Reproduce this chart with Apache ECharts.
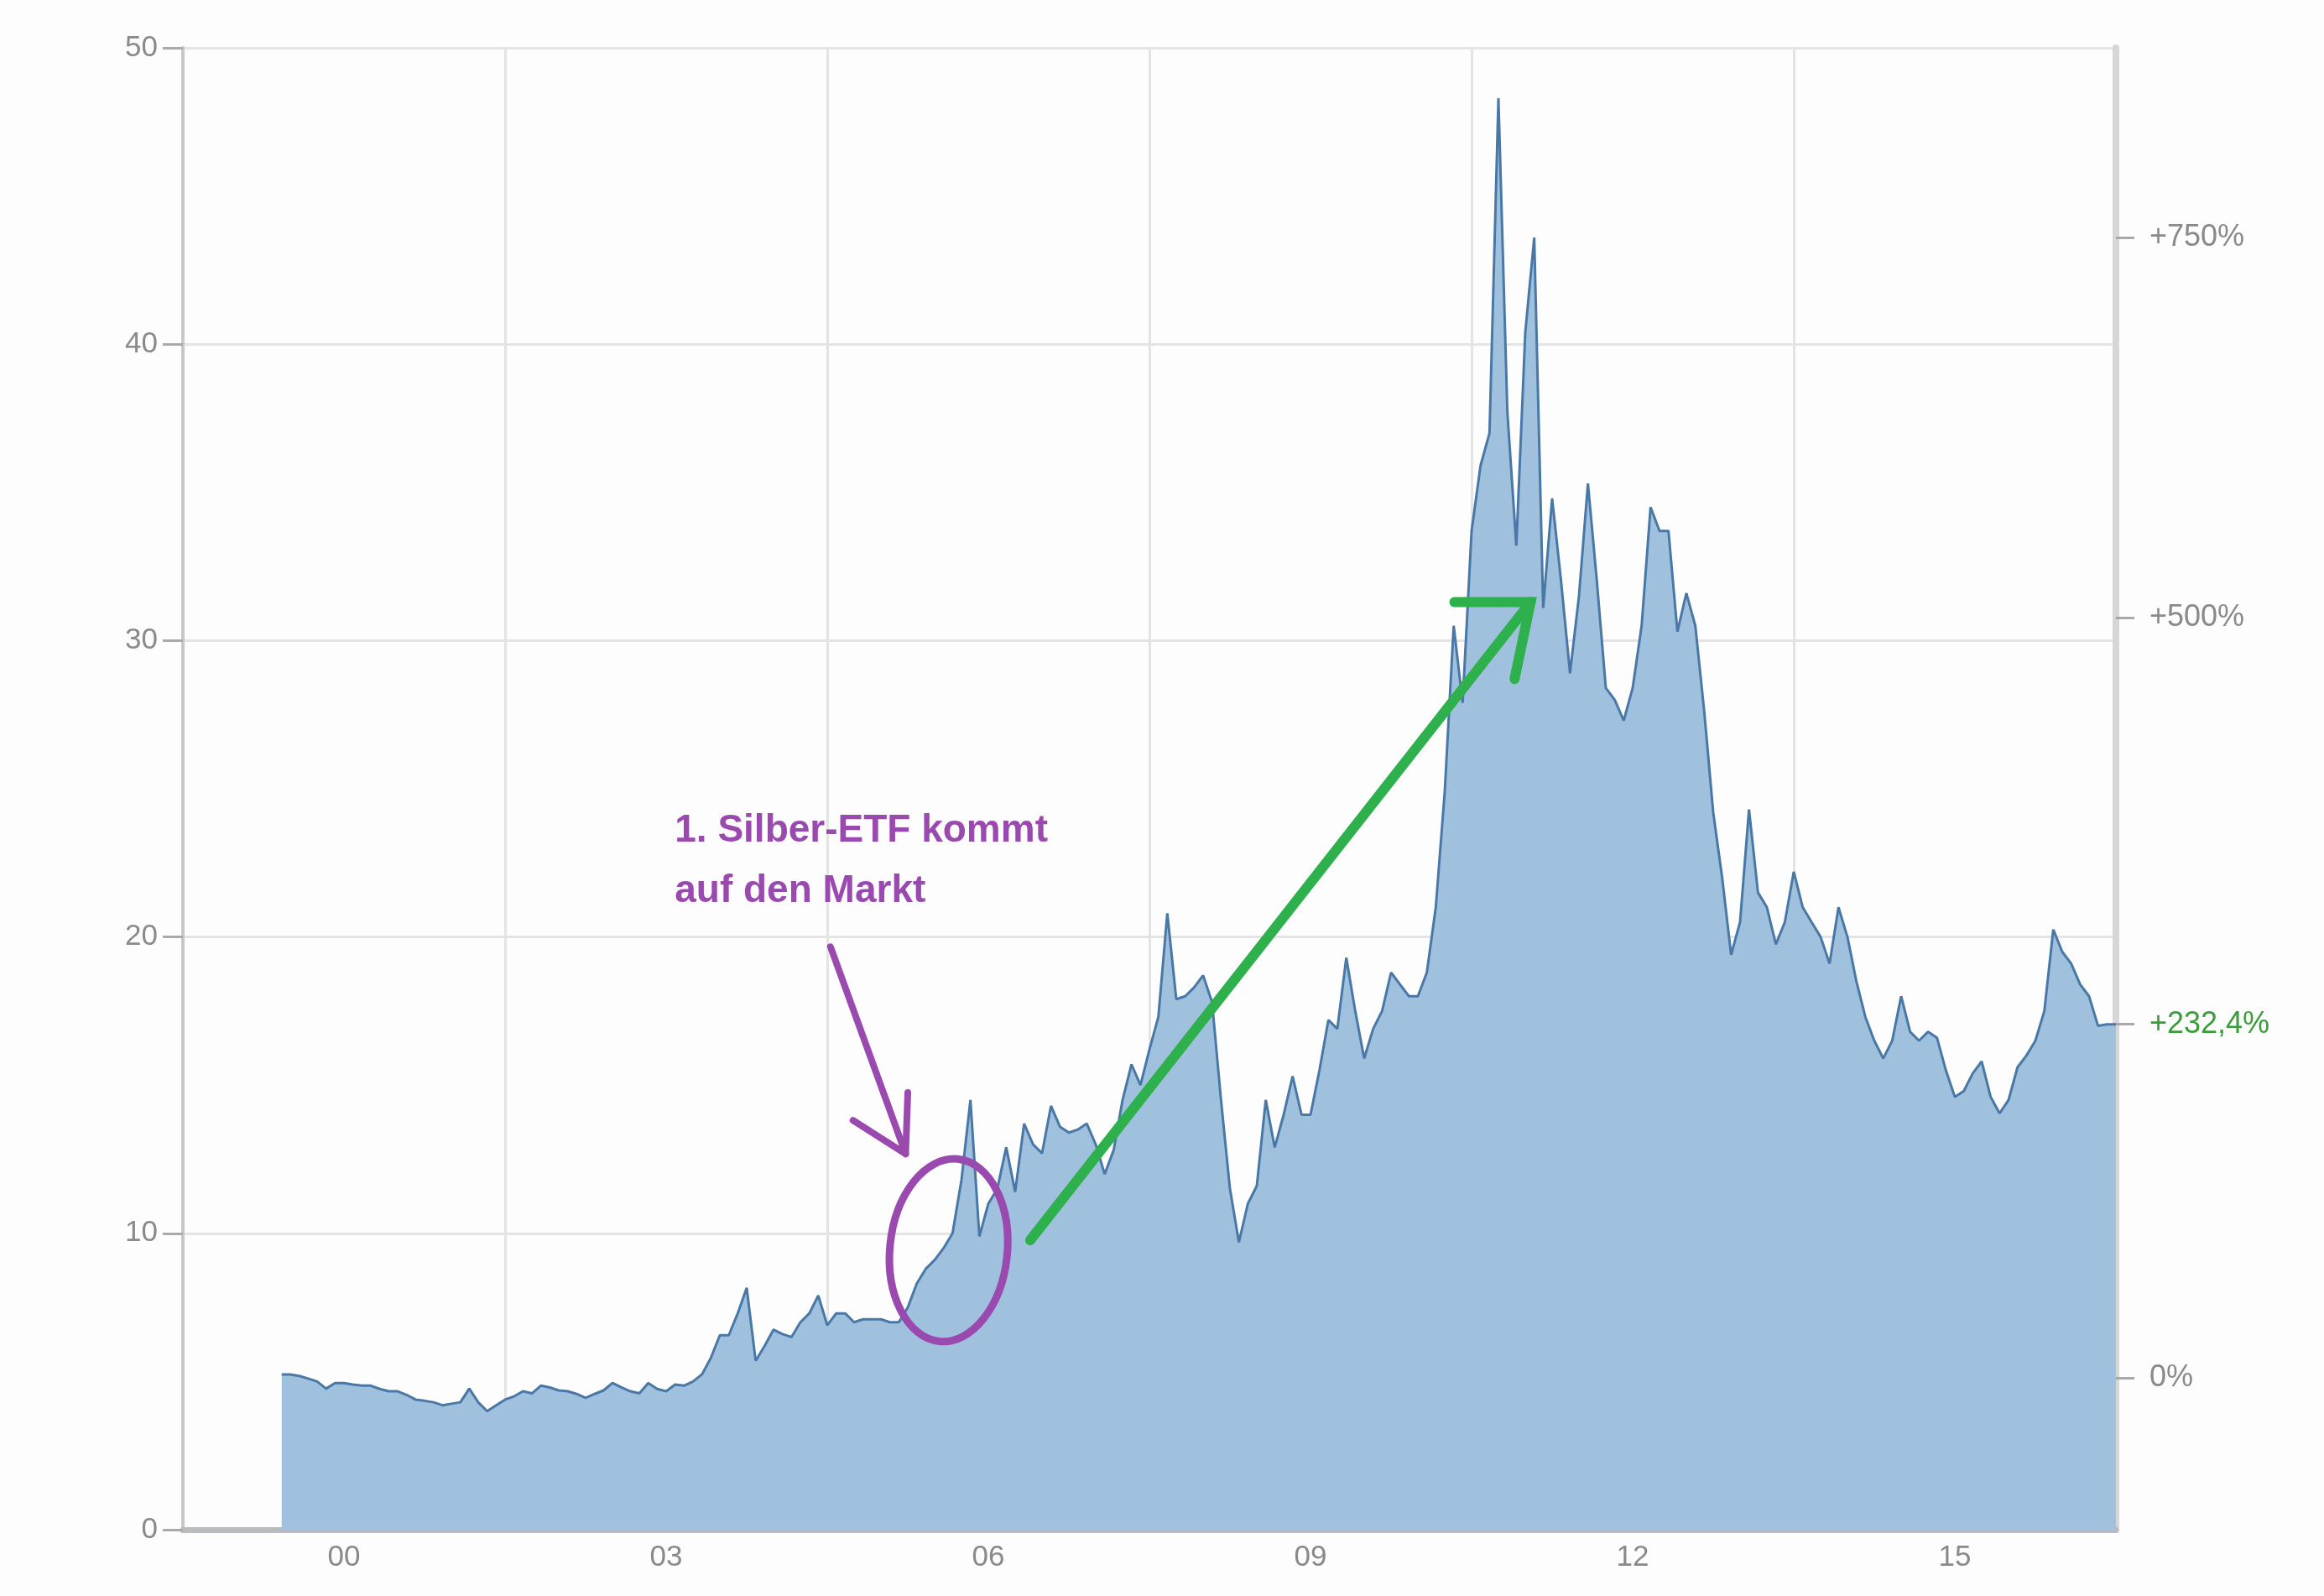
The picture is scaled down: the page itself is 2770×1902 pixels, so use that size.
<!DOCTYPE html>
<html>
<head>
<meta charset="utf-8">
<script src="https://cdn.jsdelivr.net/npm/echarts@6/dist/echarts.min.js"></script>
<style>
html,body{margin:0;padding:0;background:#fdfdfd;}
#chart{width:2770px;height:1902px;}
</style>
</head>
<body>
<div id="chart"></div>
<script>
// Silver price (USD/oz), monthly readings from the reference chart
const firstYear = 2000;
const startPoint = [1999.92, 5.24]; // left edge of the filled area in the reference
const v2000 = [5.24, 5.19, 5.10, 5.00, 4.76, 4.95, 4.95, 4.90, 4.86, 4.86, 4.75, 4.67];
const v2001 = [4.67, 4.55, 4.39, 4.35, 4.30, 4.20, 4.25, 4.30, 4.76, 4.30, 4.00, 4.20];
const v2002 = [4.39, 4.50, 4.67, 4.60, 4.86, 4.80, 4.70, 4.67, 4.58, 4.45, 4.58, 4.70];
const v2003 = [4.95, 4.80, 4.67, 4.60, 4.95, 4.75, 4.67, 4.90, 4.86, 5.00, 5.24, 5.80];
const v2004 = [6.56, 6.56, 7.30, 8.16, 5.70, 6.20, 6.75, 6.60, 6.50, 7.00, 7.30, 7.90];
const v2005 = [6.90, 7.30, 7.30, 7.00, 7.10, 7.10, 7.10, 7.00, 7.00, 7.50, 8.30, 8.80];
const v2006 = [9.10, 9.50, 10.0, 11.8, 14.5, 9.90, 11.0, 11.5, 12.9, 11.4, 13.7, 13.0];
const v2007 = [12.7, 14.3, 13.6, 13.4, 13.5, 13.7, 13.0, 12.0, 12.8, 14.5, 15.7, 15.0];
const v2008 = [16.2, 17.3, 20.8, 17.9, 18.0, 18.3, 18.7, 17.8, 14.5, 11.5, 9.70, 11.0];
const v2009 = [11.6, 14.5, 12.9, 14.0, 15.3, 14.0, 14.0, 15.5, 17.2, 16.9, 19.3, 17.5];
const v2010 = [15.9, 16.9, 17.5, 18.8, 18.4, 18.0, 18.0, 18.8, 21.0, 24.9, 30.5, 27.9];
const v2011 = [33.7, 35.9, 37.0, 48.3, 37.7, 33.2, 40.4, 43.6, 31.1, 34.8, 32.0, 28.9];
const v2012 = [31.5, 35.3, 32.0, 28.4, 28.0, 27.3, 28.4, 30.5, 34.5, 33.7, 33.7, 30.3];
const v2013 = [31.6, 30.5, 27.6, 24.2, 22.0, 19.4, 20.5, 24.3, 21.5, 21.0, 19.75, 20.5];
const v2014 = [22.2, 21.0, 20.5, 20.0, 19.1, 21.0, 20.0, 18.5, 17.3, 16.5, 15.9, 16.5];
const v2015 = [18.0, 16.8, 16.5, 16.8, 16.6, 15.5, 14.6, 14.8, 15.4, 15.8, 14.6, 14.05];
const v2016 = [14.5, 15.6, 16.0, 16.5, 17.5, 20.25, 19.5, 19.1, 18.4, 18.0, 17.0, 17.05];
const vLast = 17.05; // January 2017

const yearlyValues = [v2000, v2001, v2002, v2003, v2004, v2005, v2006, v2007, v2008,
                      v2009, v2010, v2011, v2012, v2013, v2014, v2015, v2016];

// Axis ticks
const xLabelPositions = [2000.5, 2003.5, 2006.5, 2009.5, 2012.5, 2015.5];
const xLabels = ['00', '03', '06', '09', '12', '15'];
const baseValue = 5.13;
const pctTicks = [0, 232.4, 500, 750];
const pctLabels = ['0%', '+232,4%', '+500%', '+750%'];

// Annotation text
const noteText = '1. Silber-ETF kommt\nauf den Markt';

const data = [startPoint];
yearlyValues.forEach((arr, i) => {
  arr.forEach((v, m) => data.push([firstYear + i + m / 12, v]));
});
data.push([firstYear + yearlyValues.length, vLast]);

const pctValues = pctTicks.map(p => baseValue * (1 + p / 100));

const chart = echarts.init(document.getElementById('chart'), null, {renderer: 'canvas'});
const labelFont = 'Liberation Sans, Arial, sans-serif';

const option = {
  backgroundColor: '#fdfdfd',
  animation: false,
  grid: {left: 218, right: 248, top: 57, bottom: 79},
  xAxis: [
    {
      type: 'value', min: 1999, max: 2017, interval: 3,
      axisLine: {show: true, lineStyle: {color: '#b8bcc0', width: 7}},
      axisTick: {show: false},
      axisLabel: {show: false},
      splitLine: {show: true, lineStyle: {color: '#e4e4e4', width: 3}}
    },
    {
      type: 'value', min: 1999, max: 2017, interval: 1.5, position: 'bottom',
      axisLine: {show: false}, axisTick: {show: false}, splitLine: {show: false},
      axisLabel: {
        show: true, color: '#8a8a8a', fontSize: 35, fontFamily: labelFont, margin: 16,
        formatter: v => {
          const i = xLabelPositions.findIndex(p => Math.abs(p - v) < 1e-6);
          return i >= 0 ? xLabels[i] : '';
        }
      }
    }
  ],
  yAxis: [
    {
      type: 'value', min: 0, max: 50, interval: 10, position: 'left',
      axisLine: {show: true, lineStyle: {color: '#c8c8c8', width: 4}},
      axisTick: {show: true, length: 24, lineStyle: {color: '#aaaaaa', width: 3}},
      axisLabel: {color: '#8a8a8a', fontSize: 35, fontFamily: labelFont, margin: 30},
      splitLine: {show: true, lineStyle: {color: '#e4e4e4', width: 3}}
    },
    {
      type: 'value', min: 0, max: 50, position: 'right',
      axisLine: {show: true, lineStyle: {color: '#d6d6d6', width: 8}},
      axisTick: {show: true, length: 22, customValues: pctValues, lineStyle: {color: '#a8a8a8', width: 3}},
      splitLine: {show: false},
      axisLabel: {
        customValues: pctValues, margin: 40, color: '#8a8a8a', fontSize: 36, fontFamily: labelFont,
        formatter: v => {
          const i = pctValues.findIndex(p => Math.abs(p - v) < 1e-3);
          if (i < 0) return '';
          return pctTicks[i] === 232.4 ? '{g|' + pctLabels[i] + '}' : pctLabels[i];
        },
        rich: {g: {color: '#3a9d3a', fontSize: 36, fontFamily: labelFont}}
      }
    }
  ],
  series: [{
    type: 'line',
    xAxisIndex: 0, yAxisIndex: 0,
    data: data,
    showSymbol: false,
    symbol: 'none',
    lineStyle: {color: '#4a78a6', width: 3},
    areaStyle: {color: '#a0c1dd', opacity: 1},
    z: 2
  }]
};
chart.setOption(option);

function px(x, y) { return chart.convertToPixel({xAxisIndex: 0, yAxisIndex: 0}, [x, y]); }

const purple = '#9a4aaf';
const green = '#2eb04c';

const gStart = px(2006.89, 9.77), gTip = px(2011.55, 31.3);
const gHeadA = px(2010.84, 31.3), gHeadB = px(2011.40, 28.7);
const pStart = px(2005.03, 19.67), pTip = px(2005.73, 12.68);
const pHeadA = px(2005.75, 14.75), pHeadB = px(2005.24, 13.81);
const eC = px(2006.13, 9.43), eR = px(2006.13 + 0.547, 9.43 + 3.09);
const tPos = px(2003.58, 24.6);

chart.setOption({
  graphic: [
    {type: 'text', x: tPos[0], y: tPos[1], z: 20,
     style: {text: noteText, fill: purple, font: 'bold 46px "Liberation Sans", Arial, sans-serif', lineHeight: 72}},
    {type: 'polyline', z: 20, shape: {points: [pStart, pTip]},
     style: {stroke: purple, lineWidth: 8, fill: null, lineCap: 'round'}},
    {type: 'polyline', z: 20, shape: {points: [pHeadB, pTip, pHeadA]},
     style: {stroke: purple, lineWidth: 8, fill: null, lineCap: 'round', lineJoin: 'round'}},
    {type: 'ellipse', z: 20, x: eC[0], y: eC[1], rotation: -0.1,
     shape: {cx: 0, cy: 0, rx: Math.abs(eR[0] - eC[0]), ry: Math.abs(eR[1] - eC[1])},
     style: {stroke: purple, lineWidth: 9, fill: null}},
    {type: 'polyline', z: 20, shape: {points: [gStart, gTip]},
     style: {stroke: green, lineWidth: 12, fill: null, lineCap: 'round'}},
    {type: 'polyline', z: 20, shape: {points: [gHeadA, gTip, gHeadB]},
     style: {stroke: green, lineWidth: 12, fill: null, lineCap: 'round', lineJoin: 'miter'}}
  ]
});
</script>
</body>
</html>
